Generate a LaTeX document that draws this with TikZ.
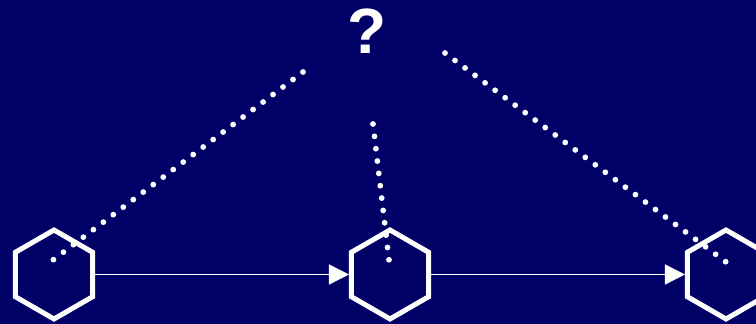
\documentclass[tikz,border=0pt]{standalone}
\usepackage{fontspec}
\setmainfont{Liberation Sans}
\usetikzlibrary{shapes.geometric,arrows.meta}
\definecolor{bgnavy}{RGB}{0,0,102}
\tikzset{
  hexnode/.style={draw=white, line width=5pt, regular polygon, regular polygon sides=6,
    shape border rotate=30, minimum size=89pt, inner sep=0pt, outer sep=0pt},
  flowarrow/.style={draw=white, line width=1.6pt, -{Triangle[length=20pt,width=20pt]}, shorten >=2.5pt},
  dotline/.style={draw=white, line width=5.8pt, line cap=round, dash pattern=on 0pt off #1},
  qmark/.style={text=white, font=\fontsize{64pt}{64pt}\selectfont\bfseries, inner sep=0pt, anchor=base}
}
\begin{document}
\begin{tikzpicture}[x=1pt,y=-1pt]
  \fill[bgnavy] (0,0) rectangle (756,324);
  \useasboundingbox (0,0) rectangle (756,324);
  \node[hexnode] (h1) at (54,274.5) {};
  \node[hexnode] (h2) at (390,274.5) {};
  \node[hexnode] (h3) at (726,274.5) {};
  \draw[flowarrow] (h1.east) -- (h2.west);
  \draw[flowarrow] (h2.east) -- (h3.west);
  \node[qmark] (q) at (367.5,53) {?};
  \coordinate (d1s) at (303,72);
  \coordinate (d1e) at (53,260);
  \coordinate (d2s) at (373,124);
  \coordinate (d2e) at (389,260);
  \coordinate (d3s) at (445,53);
  \coordinate (d3e) at (726,262);
  \draw[dotline=12.49pt] (d1s) -- (d1e);
  \draw[dotline=12.43pt] (d2s) -- (d2e);
  \draw[dotline=12.49pt] (d3s) -- (d3e);
\end{tikzpicture}
\end{document}
